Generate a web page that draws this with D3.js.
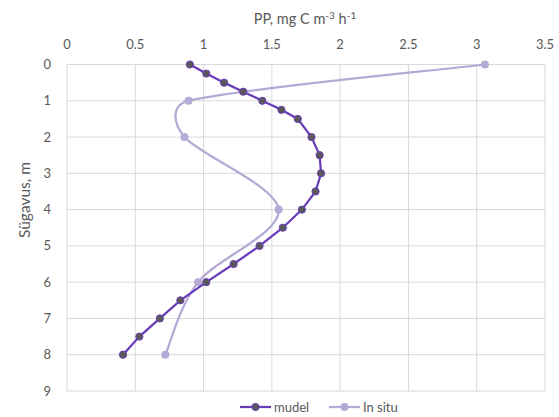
<!DOCTYPE html>
<html>
<head>
<meta charset="utf-8">
<script src="https://cdn.jsdelivr.net/npm/d3@7"></script>
<style>
  body { margin: 0; background: #fff; }
  text { font-family: Lato, "Open Sans", sans-serif; fill: #595959; }
</style>
</head>
<body>
<div id="chart"></div>
<script>
// depth (m) for the model series
var mudelDepth = [0, 0.25, 0.5, 0.75, 1, 1.25, 1.5, 2, 2.5, 3, 3.5, 4, 4.5, 5, 5.5, 6, 6.5, 7, 7.5, 8];
var mudelPP = [0.90, 1.02, 1.15, 1.29, 1.43, 1.57, 1.69, 1.79, 1.85, 1.86, 1.82, 1.72, 1.58, 1.41, 1.22, 1.02, 0.83, 0.68, 0.53, 0.41];
// in situ measurements
var insituDepth = [0, 1, 2, 4, 6, 8];
var insituPP = [3.06, 0.89, 0.86, 1.55, 0.96, 0.72];
var xTicks = [0, 0.5, 1, 1.5, 2, 2.5, 3, 3.5];
var yTicks = [0, 1, 2, 3, 4, 5, 6, 7, 8, 9];

var margin = {top: 64.5, right: 14, bottom: 26, left: 67},
    width = 559 - margin.left - margin.right,
    height = 417 - margin.top - margin.bottom;

var svg = d3.select("#chart")
    .append("svg")
        .attr("width", 559)
        .attr("height", 417)
    .append("g")
        .attr("transform", "translate(" + margin.left + "," + margin.top + ")");

var x = d3.scaleLinear().domain([0, 3.5]).range([0, width]);
var y = d3.scaleLinear().domain([0, 9]).range([0, height]);

// excel-ish smoothed line: catmull-rom bezier, handles clamped to half the segment
function smoothPath(pts) {
    var p = d3.path();
    p.moveTo(pts[0][0], pts[0][1]);
    function handle(a, b, seg) {
        var dx = (b[0] - a[0]) / 6, dy = (b[1] - a[1]) / 6;
        var len = Math.hypot(dx, dy), max = seg * 0.5;
        if (len > max) { dx *= max / len; dy *= max / len; }
        return [dx, dy];
    }
    for (var i = 0; i < pts.length - 1; i++) {
        var p0 = pts[Math.max(i - 1, 0)], p1 = pts[i], p2 = pts[i + 1], p3 = pts[Math.min(i + 2, pts.length - 1)];
        var seg = Math.hypot(p2[0] - p1[0], p2[1] - p1[1]);
        var h1 = handle(p0, p2, seg), h2 = handle(p1, p3, seg);
        p.bezierCurveTo(p1[0] + h1[0], p1[1] + h1[1], p2[0] - h2[0], p2[1] - h2[1], p2[0], p2[1]);
    }
    return p.toString();
}

// grid
svg.selectAll(".vgrid")
    .data(xTicks)
    .enter()
    .append("line")
    .attr("x1", d => x(d)).attr("x2", d => x(d))
    .attr("y1", 0).attr("y2", height)
    .attr("stroke", "#d9d9d9")
    .attr("stroke-width", 1);

svg.selectAll(".hgrid")
    .data(yTicks)
    .enter()
    .append("line")
    .attr("x1", 0).attr("x2", width)
    .attr("y1", d => y(d)).attr("y2", d => y(d))
    .attr("stroke", "#d9d9d9")
    .attr("stroke-width", 1);

// tick labels
svg.selectAll(".xlab")
    .data(xTicks)
    .enter()
    .append("text")
    .attr("x", d => x(d))
    .attr("y", -16)
    .attr("text-anchor", "middle")
    .style("font-size", "13px")
    .text(d => d);

svg.selectAll(".ylab")
    .data(yTicks)
    .enter()
    .append("text")
    .attr("x", -16)
    .attr("y", d => y(d))
    .attr("dy", "0.35em")
    .attr("text-anchor", "end")
    .style("font-size", "13px")
    .text(d => d);

// axis titles
var title = svg.append("text")
    .attr("x", 238)
    .attr("y", -41)
    .attr("text-anchor", "middle")
    .style("font-size", "14.5px");
title.append("tspan").text("PP, mg C m");
title.append("tspan").attr("dy", -5).style("font-size", "10px").text("-3");
title.append("tspan").attr("dy", 5).text(" h");
title.append("tspan").attr("dy", -5).style("font-size", "10px").text("-1");

svg.append("text")
    .attr("transform", "translate(-42," + (200 - margin.top) + ") rotate(-90)")
    .attr("text-anchor", "middle")
    .attr("dy", "0.35em")
    .style("font-size", "15.5px")
    .text("Sügavus, m");

// in situ line
var insitu = insituDepth.map((d, i) => ({depth: d, pp: insituPP[i]}));
svg.append("path")
    .attr("fill", "none")
    .attr("stroke", "#b4aad6")
    .attr("stroke-width", 2.25)
    .attr("d", smoothPath(insitu.map(d => [x(d.pp), y(d.depth)])));

svg.selectAll(".insituDot")
    .data(insitu)
    .enter()
    .append("circle")
    .attr("cx", d => x(d.pp))
    .attr("cy", d => y(d.depth))
    .attr("r", 4)
    .attr("fill", "#b4aad6");

// model line
var mudel = mudelDepth.map((d, i) => ({depth: d, pp: mudelPP[i]}));
svg.append("path")
    .datum(mudel)
    .attr("fill", "none")
    .attr("stroke", "#6a3db8")
    .attr("stroke-width", 2.25)
    .attr("d", d3.line().x(d => x(d.pp)).y(d => y(d.depth)));

svg.selectAll(".mudelDot")
    .data(mudel)
    .enter()
    .append("circle")
    .attr("cx", d => x(d.pp))
    .attr("cy", d => y(d.depth))
    .attr("r", 3.6)
    .attr("fill", "#595959")
    .attr("stroke", "#6a3db8")
    .attr("stroke-width", 1);

// legend
var legend = svg.append("g").attr("transform", "translate(" + (240 - margin.left) + "," + (407 - margin.top) + ")");
legend.append("line").attr("x1", 0).attr("x2", 31).attr("stroke", "#6a3db8").attr("stroke-width", 2.25);
legend.append("circle").attr("cx", 15.5).attr("r", 3.6).attr("fill", "#595959").attr("stroke", "#6a3db8");
legend.append("text").attr("x", 34).attr("dy", "0.35em").style("font-size", "13px").text("mudel");

legend.append("line").attr("x1", 89).attr("x2", 120).attr("stroke", "#b4aad6").attr("stroke-width", 2.25);
legend.append("circle").attr("cx", 104.5).attr("r", 4).attr("fill", "#b4aad6");
legend.append("text").attr("x", 123).attr("dy", "0.35em").style("font-size", "13px").text("In situ");
</script>
</body>
</html>
